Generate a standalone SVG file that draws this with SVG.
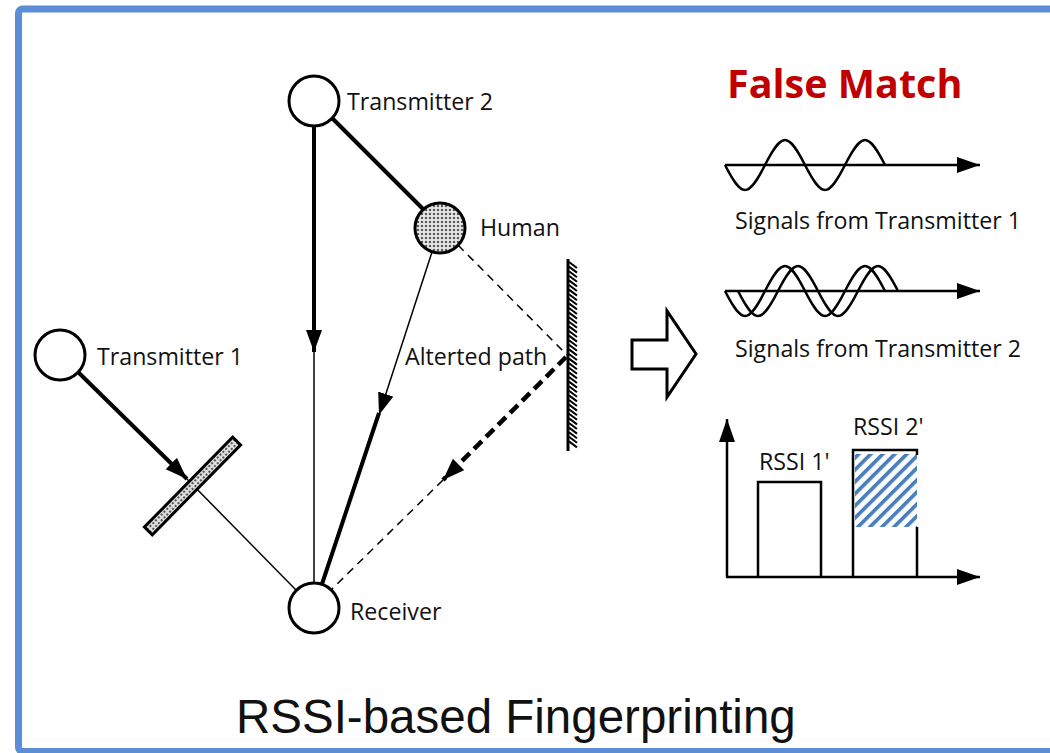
<svg xmlns="http://www.w3.org/2000/svg" width="1050" height="753" viewBox="0 0 1050 753">
<style>
.lbl{font-family:"Open Sans","Noto Sans","Liberation Sans",sans-serif;font-size:23.2px;fill:#111}
.node{fill:#fff;stroke:#000;stroke-width:3}
.thick{stroke:#000;stroke-width:4;fill:none}
.thin{stroke:#000;stroke-width:1.5;fill:none}
.dash{stroke:#000;stroke-width:1.5;fill:none;stroke-dasharray:8 6}
.tdash{stroke:#000;stroke-width:4.5;fill:none;stroke-dasharray:11 6}
.ax{stroke:#000;stroke-width:2.5;fill:none}
</style>
<defs>
<pattern id="dots" patternUnits="userSpaceOnUse" width="4" height="4">
<rect width="4" height="4" fill="#e0e0e0"/>
<circle cx="2" cy="2" r="1.1" fill="#333"/>
</pattern>
<pattern id="hatch" patternUnits="userSpaceOnUse" width="8.5" height="8.5" patternTransform="rotate(45)">
<rect width="3.6" height="8.5" fill="#4A7EBB"/>
</pattern>
<marker id="ah" markerUnits="userSpaceOnUse" markerWidth="24" markerHeight="18" refX="22" refY="8" orient="auto">
<path d="M0,0 L22,8 L0,16 z" fill="#000"/>
</marker>
<marker id="axh" markerUnits="userSpaceOnUse" markerWidth="26" markerHeight="18" refX="23" refY="8" orient="auto">
<path d="M0,0 L23,8 L0,16 z" fill="#000"/>
</marker>
</defs>
<rect x="0" y="0" width="1050" height="753" fill="#fff"/>
<rect x="18.5" y="9" width="1100" height="742.5" rx="4" fill="none" stroke="#5B8ED6" stroke-width="7"/>

<g id="connectors">
<line class="thick" x1="314" y1="126" x2="314" y2="352" marker-end="url(#ah)"/>
<line class="thin" x1="314" y1="352" x2="314" y2="583"/>
<line class="thick" x1="332" y1="118" x2="424" y2="210"/>
<line class="thin" x1="432" y1="252" x2="379" y2="415" marker-end="url(#ah)"/>
<line class="thick" x1="379" y1="413" x2="322" y2="584"/>
<line class="dash" x1="458" y1="245" x2="567" y2="355"/>
<line class="tdash" x1="566" y1="357" x2="443" y2="480" marker-end="url(#ah)"/>
<line class="dash" x1="443" y1="480" x2="331" y2="590"/>
<line class="thick" x1="78" y1="372" x2="187" y2="479" marker-end="url(#ah)"/>
<line class="thin" x1="187" y1="479" x2="296" y2="590"/>
</g>

<g id="mirror">
<line x1="568" y1="259" x2="568" y2="451" stroke="#000" stroke-width="3"/>
<path stroke="#000" stroke-width="2" fill="none" d="M569,262 l8,6 m-8,-1.4 l8,6 m-8,-1.4 l8,6 m-8,-1.4 l8,6 m-8,-1.4 l8,6 m-8,-1.4 l8,6 m-8,-1.4 l8,6 m-8,-1.4 l8,6 m-8,-1.4 l8,6 m-8,-1.4 l8,6 m-8,-1.4 l8,6 m-8,-1.4 l8,6 m-8,-1.4 l8,6 m-8,-1.4 l8,6 m-8,-1.4 l8,6 m-8,-1.4 l8,6 m-8,-1.4 l8,6 m-8,-1.4 l8,6 m-8,-1.4 l8,6 m-8,-1.4 l8,6 m-8,-1.4 l8,6 m-8,-1.4 l8,6 m-8,-1.4 l8,6 m-8,-1.4 l8,6 m-8,-1.4 l8,6 m-8,-1.4 l8,6 m-8,-1.4 l8,6 m-8,-1.4 l8,6 m-8,-1.4 l8,6 m-8,-1.4 l8,6 m-8,-1.4 l8,6 m-8,-1.4 l8,6 m-8,-1.4 l8,6 m-8,-1.4 l8,6 m-8,-1.4 l8,6 m-8,-1.4 l8,6 m-8,-1.4 l8,6 m-8,-1.4 l8,6 m-8,-1.4 l8,6 m-8,-1.4 l8,6"/>
</g>

<g id="obstacle">
<rect x="-63" y="-5.5" width="126" height="11" fill="url(#dots)" stroke="#000" stroke-width="3" transform="translate(192.5,486) rotate(-45.5)"/>
</g>

<g id="transmitter2">
<circle class="node" cx="314" cy="101" r="25"/>
<text class="lbl" x="347" y="110">Transmitter 2</text>
</g>
<g id="human">
<circle cx="440" cy="228" r="25" fill="url(#dots)" stroke="#000" stroke-width="3"/>
<text class="lbl" x="480" y="236">Human</text>
</g>
<g id="transmitter1">
<circle class="node" cx="60" cy="355" r="25"/>
<text class="lbl" x="97" y="365">Transmitter 1</text>
</g>
<g id="receiver">
<circle class="node" cx="314" cy="608" r="25"/>
<text class="lbl" x="350" y="620">Receiver</text>
</g>
<g id="pathlabel">
<text class="lbl" x="405" y="365">Alterted path</text>
</g>

<g id="bigarrow">
<polygon points="632,340 667,340 667,311 696,354 667,397 667,369 632,369" fill="#fff" stroke="#000" stroke-width="3" stroke-linejoin="miter"/>
</g>

<g id="falsematch">
<text x="727" y="98" font-family="'Open Sans','Noto Sans','Liberation Sans',sans-serif" font-weight="bold" font-size="39.5" fill="#C00000">False Match</text>
</g>

<g id="signal1">
<line class="ax" x1="725" y1="165" x2="980" y2="165" marker-end="url(#axh)"/>
<path class="ax" stroke-width="2" d="M725,165 c17,33.3 23,33.3 40,0 s23,-33.3 40,0 s23,33.3 40,0 s23,-33.3 40,0"/>
<text class="lbl" x="735" y="229">Signals from Transmitter 1</text>
</g>

<g id="signal2">
<line class="ax" x1="725" y1="291" x2="980" y2="291" marker-end="url(#axh)"/>
<path class="ax" stroke-width="2" d="M725,291 c17,33.3 23,33.3 40,0 s23,-33.3 40,0 s23,33.3 40,0 s23,-33.3 40,0"/>
<path class="ax" stroke-width="2" d="M738,291 c17,33.3 23,33.3 40,0 s23,-33.3 40,0 s23,33.3 40,0 s23,-33.3 40,0"/>
<text class="lbl" x="735" y="357">Signals from Transmitter 2</text>
</g>

<g id="rssichart">
<line class="ax" x1="727" y1="577" x2="727" y2="419" marker-end="url(#axh)"/>
<line class="ax" x1="726" y1="577" x2="980" y2="577" marker-end="url(#axh)"/>
<polyline class="ax" points="758,577 758,482 821,482 821,577"/>
<rect x="855" y="454" width="62" height="73" fill="url(#hatch)"/>
<polyline class="ax" points="853,577 853,450 917,450 917,455"/>
<line class="ax" x1="917" y1="527" x2="917" y2="577"/>
<text class="lbl" x="759" y="470">RSSI 1'</text>
<text class="lbl" x="853" y="435">RSSI 2'</text>
</g>

<g id="title">
<text x="236" y="733" font-family="'Liberation Sans',Arial,sans-serif" font-size="47.5" fill="#111">RSSI-based Fingerprinting</text>
</g>
</svg>
